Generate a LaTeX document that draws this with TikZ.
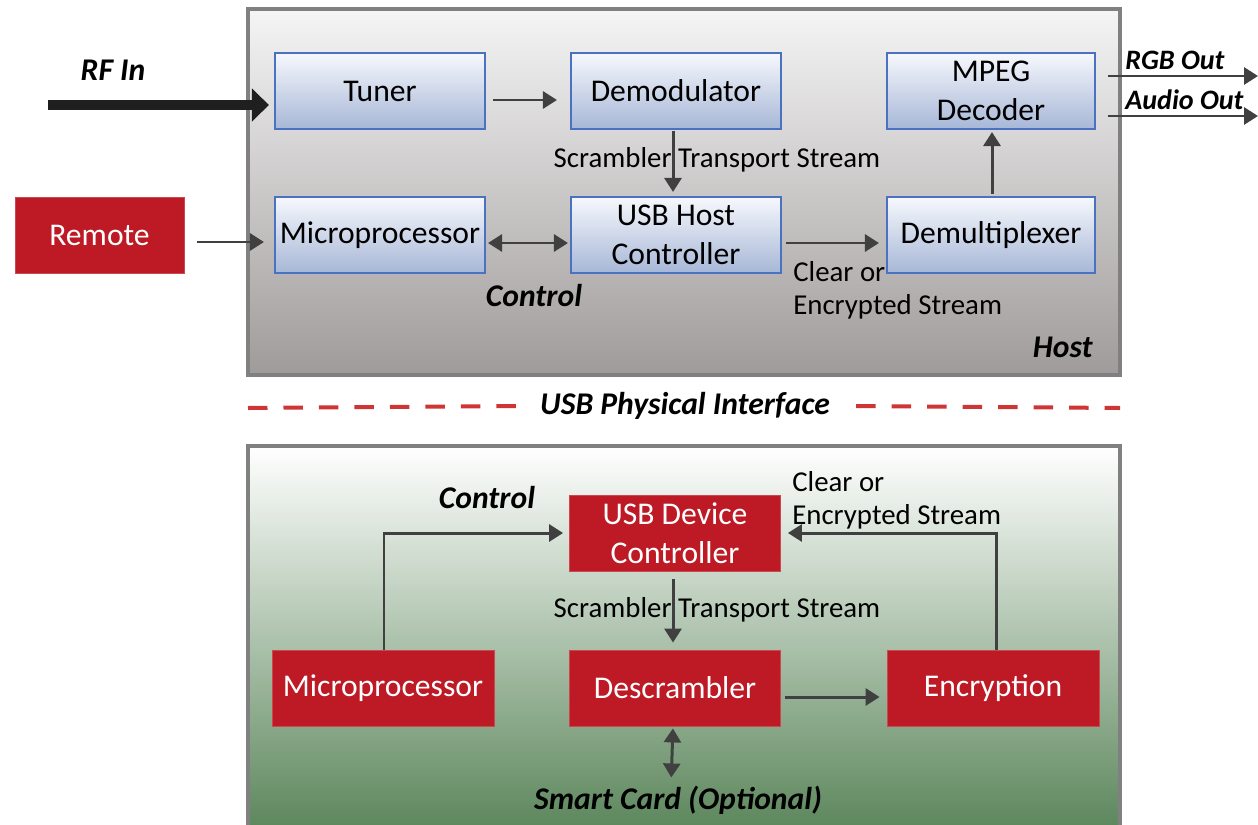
\documentclass[tikz,border=0pt]{standalone}
\usepackage{fontspec}
\setmainfont{Carlito}
\usetikzlibrary{arrows.meta,calc}
\definecolor{boxred}{HTML}{BE1A25}
\definecolor{boxblue}{HTML}{4A72C0}
\definecolor{arrgray}{HTML}{404040}
\definecolor{dashred}{HTML}{D03535}
\definecolor{bluetop}{RGB}{246,248,252}
\definecolor{bluebot}{RGB}{167,183,215}
\tikzset{
  bluebox/.style={draw=boxblue, line width=1.2pt, top color=bluetop, bottom color=bluebot,
    minimum width=4.2cm, minimum height=1.52cm, inner sep=0pt, align=center, font=\fontsize{18}{22}\selectfont},
  redbox/.style={draw=boxred!80!white, line width=0.5pt, fill=boxred, text=white,
    minimum width=4.22cm, minimum height=1.52cm, inner sep=0pt, align=center, font=\fontsize{18}{22}\selectfont},
  conn/.style={draw=arrgray, line width=1.7pt, -{Triangle[width=0.34cm,length=0.28cm]}},
  bconn/.style={draw=arrgray, line width=1.7pt, {Triangle[width=0.34cm,length=0.28cm]}-{Triangle[width=0.34cm,length=0.28cm]}},
  biglabel/.style={font=\fontsize{18}{22}\selectfont\bfseries\itshape, inner sep=0pt},
  outlabel/.style={font=\fontsize{16}{20}\selectfont\bfseries\itshape, inner sep=0pt},
  smalllabel/.style={font=\fontsize{16.4}{20}\selectfont, inner sep=0pt},
  reddash/.style={draw=dashred, line width=0.08cm, dash pattern=on 0.39cm off 0.32cm},
}
\begin{document}
\begin{tikzpicture}[x=0.02cm, y=-0.02cm]
\useasboundingbox (0,0) rectangle (1258,825);
% panels
\path[top color=white!96!black, bottom color=black!38!white!98!red] (248,9) rectangle (1120,375);
\draw[draw=black!50, line width=2pt] (248,9) rectangle (1120,375);
\path[top color=white, bottom color={rgb,255:red,94;green,136;blue,94}] (248,446) rectangle (1120,825);
\draw[draw=black!50, line width=2pt] (248,826) -- (248,446) -- (1120,446) -- (1120,826);

% upper nodes
\node[bluebox] (tuner) at (380,91) {Tuner};
\node[bluebox] (demod) at (676,91) {Demodulator};
\node[bluebox, minimum width=4.16cm] (mpeg) at (991,91) {MPEG\\Decoder};
\node[bluebox] (microU) at (380,235) {Microprocessor};
\node[bluebox] (usbhost) at (676,235) {USB Host\\Controller};
\node[bluebox, minimum width=4.16cm] (demux) at (991,235) {Demultiplexer};
\node[redbox, minimum width=3.38cm] (remote) at (99.5,235) {Remote};

% lower nodes
\node[redbox] (usbdev) at (675,533) {USB Device\\Controller};
\node[redbox, minimum width=4.44cm] (microL) at (383,688) {Microprocessor};
\node[redbox] (descr) at (675,688) {Descrambler};
\node[redbox, minimum width=4.24cm] (encr) at (993,688) {Encryption};

% labels
\node[biglabel] (rfin) at (113,70) {RF In};
\node[smalllabel] (stsU) at (717,160) {Scrambler Transport Stream};
\node[smalllabel, anchor=west] (clearU) at (793,272) {Clear or};
\node[smalllabel, anchor=west] (encU) at (793,307) {Encrypted Stream};
\node[biglabel] (ctrlU) at (534,296) {Control};
\node[biglabel, anchor=east] (host) at (1093,347) {Host};
\node[outlabel, anchor=west] (rgb) at (1125,60) {RGB Out};
\node[outlabel, anchor=west] (audio) at (1125,100) {Audio Out};
\node[biglabel] (usbpi) at (685,406) {USB Physical Interface};
\node[biglabel] (ctrlL) at (487,498) {Control};
\node[smalllabel, anchor=west] (clearL) at (792,482) {Clear or};
\node[smalllabel, anchor=west] (encL) at (792,517) {Encrypted Stream};
\node[smalllabel] (stsL) at (717,610) {Scrambler Transport Stream};
\node[biglabel] (smart) at (678,800) {Smart Card (Optional)};

% free ends
\coordinate (rfstart) at (48,105);
\coordinate (rgbend) at (1258,76);
\coordinate (audioend) at (1258,116);
\coordinate (dashL) at (248,408);
\coordinate (dashR) at (1120,408);

% dashed interface line
\draw[reddash] (dashL) -- ($(usbpi.west)+(-18,0)$);
\draw[reddash] ($(usbpi.east)+(26,0)$) -- (dashR);

% upper connectors
\draw[draw=black!88, line width=0.2cm, -{Triangle[width=0.64cm,length=0.34cm]}, shorten >=0.1cm]
  (rfstart) -- ($(tuner.west)+(0,14)$);
\draw[conn, shorten <=0.14cm, shorten >=0.26cm] ($(tuner.east)+(0,9)$) -- ($(demod.west)+(0,9)$);
\draw[conn, shorten <=0.02cm, shorten >=0.08cm] ($(demod.south)+(-3,0)$) -- ($(usbhost.north)+(-3,0)$);
\draw[bconn, shorten <=0.04cm, shorten >=0.04cm] ($(microU.east)+(0,8)$) -- ($(usbhost.west)+(0,8)$);
\draw[conn, shorten <=0.26cm, shorten >=0.2cm] ($(remote.east)+(0,7)$) -- ($(microU.west)+(0,7)$);
\draw[conn, shorten <=0.08cm, shorten >=0.14cm] ($(usbhost.east)+(0,8)$) -- ($(demux.west)+(0,8)$);
\draw[conn, shorten <=0.04cm, shorten >=0.04cm] ($(demux.north)+(1,0)$) -- ($(mpeg.south)+(1,0)$);
\draw[conn, shorten <=0.24cm] ($(mpeg.east)+(0,-15)$) -- (rgbend);
\draw[conn, shorten <=0.24cm] ($(mpeg.east)+(0,25)$) -- (audioend);

% lower connectors
\draw[conn, shorten >=0.12cm] ($(microL.north)+(1,0)$) |- (usbdev.west);
\draw[conn, shorten >=0.14cm] ($(encr.north)+(3,0)$) |- (usbdev.east);
\draw[conn, shorten <=0.16cm, shorten >=0.14cm] ($(usbdev.south)+(-2,0)$) -- ($(descr.north)+(-2,0)$);
\draw[conn, shorten <=0.08cm, shorten >=0.14cm] ($(descr.east)+(0,9)$) -- ($(encr.west)+(0,9)$);
\draw[bconn, shorten <=0.04cm, shorten >=0.16cm] ($(descr.south)+(-2,0)$) -- ($(smart.north)+(-7,0)$);
\end{tikzpicture}
\end{document}
